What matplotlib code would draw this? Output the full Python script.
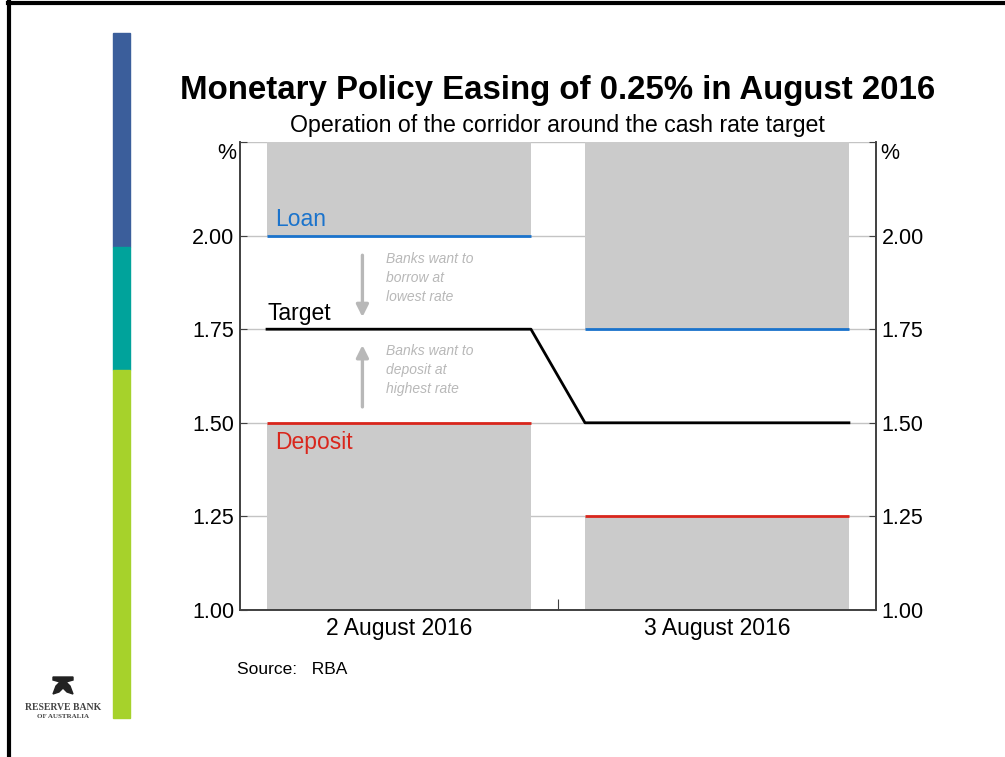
import matplotlib.pyplot as plt
from matplotlib.lines import Line2D
from matplotlib.patches import Rectangle, Polygon

## Data
dates = ["2 August 2016", "3 August 2016"]
loan_rate = [2.00, 1.75]
target_rate = [1.75, 1.50]
deposit_rate = [1.50, 1.25]
yticks = [1.00, 1.25, 1.50, 1.75, 2.00]
ytick_labels = ["1.00", "1.25", "1.50", "1.75", "2.00"]

colors = {"blue": "#1a73cc",
          "red": "#d9261c",
          "fill": "#cbcbcb",
          "grid": "#c4c4c4",
          "note": "#b8b8b8",
          "bar blue": "#3b5e9b",
          "bar teal": "#00a39b",
          "bar green": "#a6d22b"}

plt.rcParams["font.family"] = ["Liberation Sans", "DejaVu Sans"]

fig = plt.figure(figsize=(10.05, 7.57), dpi=100)
ax = fig.add_axes([0.2388, 0.1942, 0.6328, 0.6182])

ymin, ymax = 1.0, 2.25
width = 0.83
pos = [0.5, 1.5]

## Grey areas outside the corridor
for i, p in enumerate(pos):
    ax.bar(p, ymax - loan_rate[i], bottom=loan_rate[i], width=width,
           color=colors["fill"], zorder=1)
    ax.bar(p, deposit_rate[i] - ymin, bottom=ymin, width=width,
           color=colors["fill"], zorder=1)
    ax.plot([p - width / 2, p + width / 2], [loan_rate[i]] * 2,
            color=colors["blue"], lw=2, zorder=3, solid_capstyle="butt")
    ax.plot([p - width / 2, p + width / 2], [deposit_rate[i]] * 2,
            color=colors["red"], lw=2, zorder=3, solid_capstyle="butt")

## Cash rate target, stepping down between the two days
tx, ty = [], []
for i, p in enumerate(pos):
    tx += [p - width / 2, p + width / 2]
    ty += [target_rate[i], target_rate[i]]
ax.plot(tx, ty, color="black", lw=2, zorder=4)

## Labels on the lines
ax.text(0.11, loan_rate[0] + 0.025, "Loan", color=colors["blue"], fontsize=16.5)
ax.text(0.085, target_rate[0] + 0.025, "Target", color="black", fontsize=16.5)
ax.text(0.11, deposit_rate[0] - 0.07, "Deposit", color=colors["red"], fontsize=16.5)

## Arrows and notes
ax.annotate("", xy=(0.385, 1.775), xytext=(0.385, 1.955),
            arrowprops=dict(arrowstyle="-|>", color=colors["note"], lw=2.4,
                            mutation_scale=18), zorder=2)
ax.annotate("", xy=(0.385, 1.715), xytext=(0.385, 1.535),
            arrowprops=dict(arrowstyle="-|>", color=colors["note"], lw=2.4,
                            mutation_scale=18), zorder=2)
ax.text(0.46, 1.955, "Banks want to\nborrow at\nlowest rate", color=colors["note"],
        fontsize=10, style="italic", va="top", linespacing=1.45)
ax.text(0.46, 1.71, "Banks want to\ndeposit at\nhighest rate", color=colors["note"],
        fontsize=10, style="italic", va="top", linespacing=1.45)

## Axes styling
ax.set_xlim(0, 2)
ax.set_ylim(ymin, ymax)
ax.set_yticks(yticks + [ymax])
ax.set_yticklabels(ytick_labels + [""], fontsize=15.5)
ax.grid(axis="y", color=colors["grid"], lw=1, zorder=0)
ax.set_axisbelow(True)
ax.tick_params(axis="y", direction="in", length=5, color="#404040", pad=4)
ax.set_xticks([1])
ax.set_xticklabels([""])
ax.set_xticks(pos, minor=True)
ax.set_xticklabels(dates, minor=True, fontsize=16.5)
ax.tick_params(axis="x", which="major", direction="in", length=8, color="#404040")
ax.tick_params(axis="x", which="minor", length=0, pad=5)
ax.spines["top"].set_visible(False)
for s in ["left", "right", "bottom"]:
    ax.spines[s].set_color("#404040")
    ax.spines[s].set_linewidth(1.2)
ax.text(-0.012, 2.22, "%", transform=ax.transData, ha="right", va="center", fontsize=15.5)

ax2 = ax.twinx()
ax2.set_ylim(ymin, ymax)
ax2.set_yticks(yticks + [ymax])
ax2.set_yticklabels(ytick_labels + [""], fontsize=15.5)
ax2.tick_params(axis="y", direction="in", length=5, color="#404040", pad=4)
ax2.spines["top"].set_visible(False)
for s in ["left", "right", "bottom"]:
    ax2.spines[s].set_color("#404040")
    ax2.spines[s].set_linewidth(1.2)
ax2.text(2.012, 2.22, "%", transform=ax.transData, ha="left", va="center", fontsize=15.5)

## Titles and source
fig.text(0.555, 0.880, "Monetary Policy Easing of 0.25% in August 2016",
         ha="center", va="center", fontsize=23.8, fontweight="bold")
fig.text(0.555, 0.834, "Operation of the corridor around the cash rate target",
         ha="center", va="center", fontsize=16.7)
fig.text(0.236, 0.115, "Source:   RBA", ha="left", va="center", fontsize=12.5)

## Slide decoration: frame, colour strip and logo
fig.add_artist(Line2D([0.008, 1.0], [0.996, 0.996], color="black", lw=3))
fig.add_artist(Line2D([0.009, 0.009], [0.0, 0.997], color="black", lw=3))
strip = [(33, 247, colors["bar blue"]), (247, 370, colors["bar teal"]),
         (370, 718, colors["bar green"])]
for top, bot, c in strip:
    fig.add_artist(Rectangle((113 / 1005, 1 - bot / 757), 17 / 1005, (bot - top) / 757,
                             color=c, transform=fig.transFigure))
logo = [(53, 677), (73, 677), (73, 680), (66, 682), (70, 686), (73, 694),
        (67, 692), (63, 688), (59, 692), (53, 694), (56, 686), (60, 682),
        (53, 680)]
fig.add_artist(Polygon([(x / 1005, 1 - y / 757) for x, y in logo], closed=True,
                       color="#222222", transform=fig.transFigure))
fig.text(63 / 1005, 1 - 708 / 757, "RESERVE BANK", ha="center", va="center",
         fontsize=7, fontweight="bold", family="Liberation Serif", color="#444444")
fig.text(63 / 1005, 1 - 717 / 757, "OF AUSTRALIA", ha="center", va="center",
         fontsize=5, fontweight="bold", family="Liberation Serif", color="#444444")

plt.savefig("out.png", dpi=100)
